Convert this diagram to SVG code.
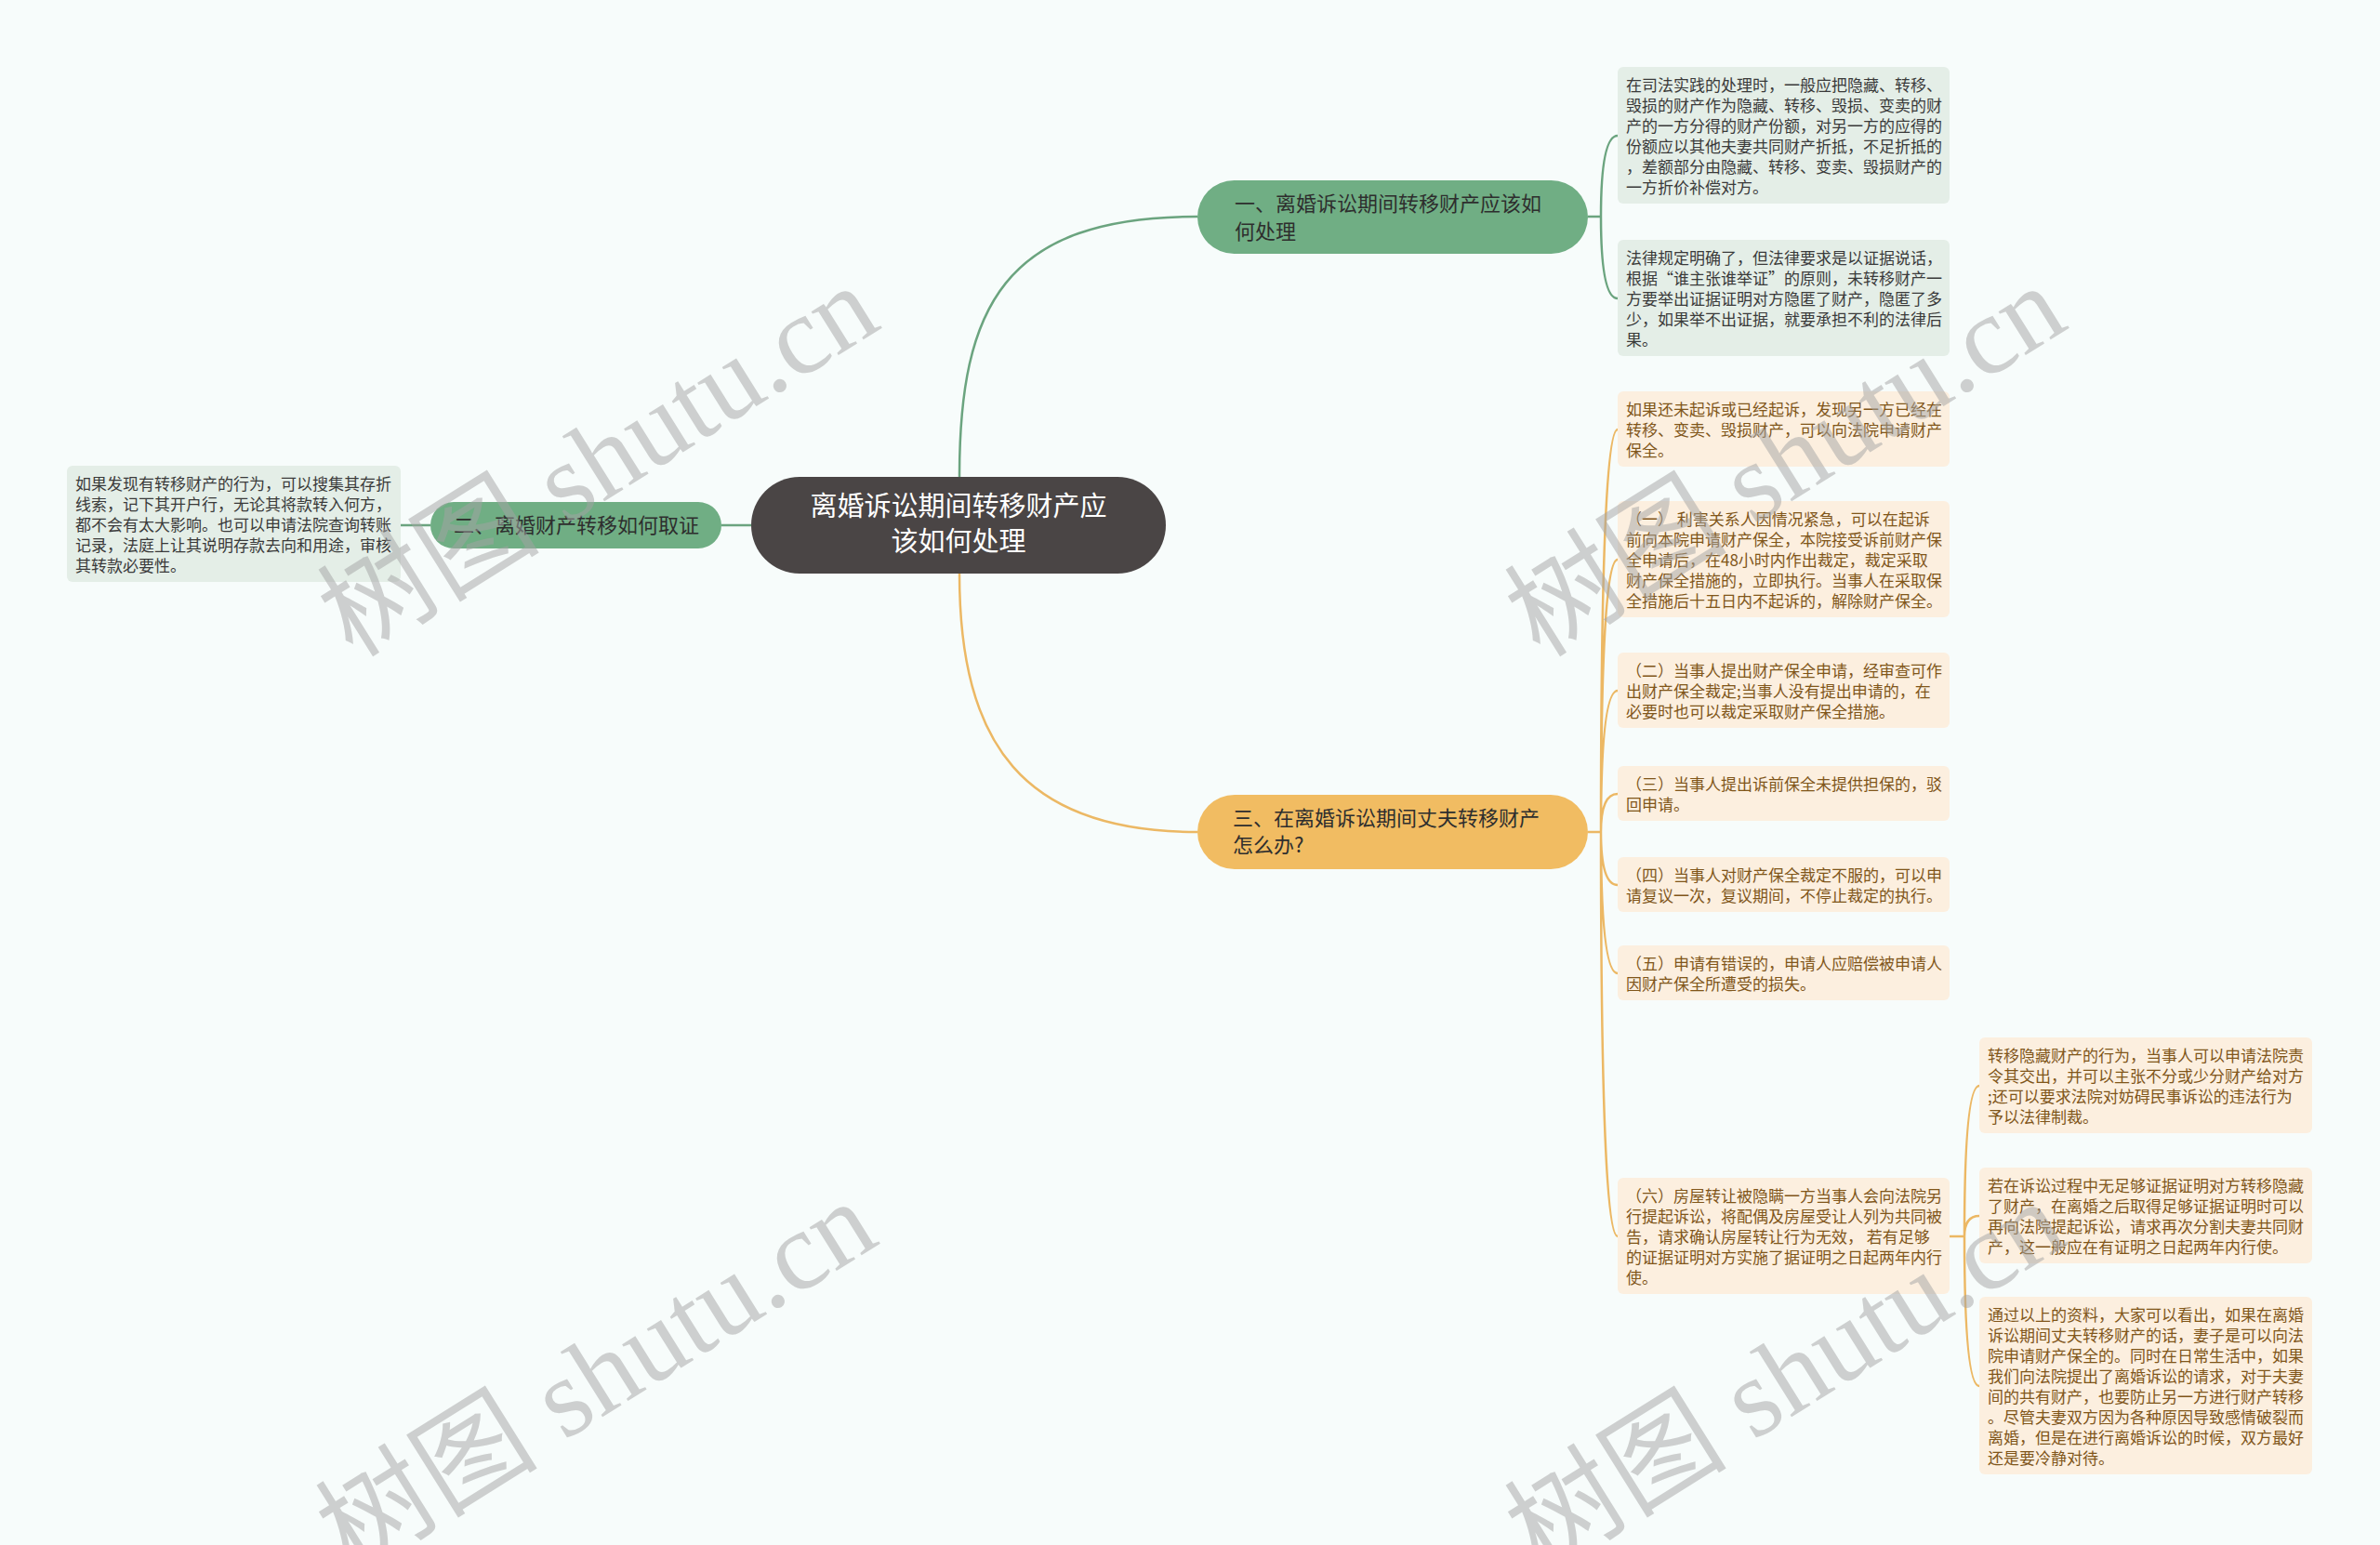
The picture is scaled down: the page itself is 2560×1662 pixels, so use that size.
<svg xmlns="http://www.w3.org/2000/svg" width="2560" height="1662" viewBox="0 0 2560 1662">
<style>
.lf{font-family:"Noto Sans CJK SC","Noto Sans",sans-serif;font-size:17px}
.gl rect{fill:#e4eee7}
.gl text{fill:#3a3a3a}
.ol rect{fill:#fcefdf}
.ol text{fill:#80561a}
.br{font-family:"Noto Sans CJK SC","Noto Sans",sans-serif;font-size:22px;fill:#2e2e2e}
.gc{fill:none;stroke:#6ba47f;stroke-width:2.5}
.oc{fill:none;stroke:#ecb864;stroke-width:2.5}
.wm{font-family:"Liberation Serif","Noto Sans CJK SC",serif;font-size:120px;fill:#a4a4a4;opacity:0.5}
</style>
<rect width="2560" height="1662" fill="#f7fcfb"/>
<g id="connectors">
<path class="gc" d="M1032,513 C1032,330 1080,233 1288,233"/>
<path class="oc" d="M1032,617 C1032,800 1100,895 1288,895"/>
<path class="gc" d="M808,565 H776"/>
<path class="gc" d="M463,565 H431"/>
<path class="gc" d="M1708,233 H1722 M1722,233 Q1722,146 1740,146 M1722,233 Q1722,321 1740,321"/>
<path class="oc" d="M1708,895 H1722 M1722,895 Q1722,462 1740,462 M1722,895 Q1722,602 1740,602 M1722,895 Q1722,743 1740,743 M1722,895 Q1722,854 1740,854 M1722,895 Q1722,952 1740,952 M1722,895 Q1722,1047 1740,1047 M1722,895 Q1722,1330 1740,1330"/>
<path class="oc" d="M2096,1330 H2113 M2113,1330 Q2113,1168 2129,1168 M2113,1330 Q2113,1308 2129,1308 M2113,1330 Q2113,1491 2129,1491"/>
</g>
<g id="center">
<rect x="808" y="513" width="446" height="104" rx="52" fill="#4a4545"/>
<text font-family="&quot;Noto Sans CJK SC&quot;,sans-serif" font-size="29" fill="#ffffff" text-anchor="middle"><tspan x="1031" y="555">离婚诉讼期间转移财产应</tspan><tspan x="1031" y="593">该如何处理</tspan></text>
</g>
<g id="branch1">
<rect x="1288" y="194" width="420" height="79" rx="39.5" fill="#70ae84"/>
<text class="br"><tspan x="1328" y="227">一、离婚诉讼期间转移财产应该如</tspan><tspan x="1328" y="257">何处理</tspan></text>
</g>
<g id="branch2">
<rect x="463" y="540" width="313" height="50" rx="25" fill="#70ae84"/>
<text class="br" x="488" y="573">二、离婚财产转移如何取证</text>
</g>
<g id="branch3">
<rect x="1288" y="855" width="420" height="80" rx="40" fill="#f1bc62"/>
<text class="br"><tspan x="1326" y="888">三、在离婚诉讼期间丈夫转移财产</tspan><tspan x="1326" y="917">怎么办?</tspan></text>
</g>
<g id="leaf-left" class="gl">
<rect x="72" y="501" width="359" height="125" rx="6"/>
<text class="lf"><tspan x="81" y="527">如果发现有转移财产的行为，可以搜集其存折</tspan><tspan x="81" y="549">线索，记下其开户行，无论其将款转入何方，</tspan><tspan x="81" y="571">都不会有太大影响。也可以申请法院查询转账</tspan><tspan x="81" y="593">记录，法庭上让其说明存款去向和用途，审核</tspan><tspan x="81" y="615">其转款必要性。</tspan></text>
</g>
<g id="leaf-1a" class="gl">
<rect x="1740" y="72" width="357" height="147" rx="6"/>
<text class="lf"><tspan x="1749" y="98">在司法实践的处理时，一般应把隐藏、转移、</tspan><tspan x="1749" y="120">毁损的财产作为隐藏、转移、毁损、变卖的财</tspan><tspan x="1749" y="142">产的一方分得的财产份额，对另一方的应得的</tspan><tspan x="1749" y="164">份额应以其他夫妻共同财产折抵，不足折抵的</tspan><tspan x="1749" y="186">，差额部分由隐藏、转移、变卖、毁损财产的</tspan><tspan x="1749" y="208">一方折价补偿对方。</tspan></text>
</g>
<g id="leaf-1b" class="gl">
<rect x="1740" y="258" width="357" height="125" rx="6"/>
<text class="lf"><tspan x="1749" y="284">法律规定明确了，但法律要求是以证据说话，</tspan><tspan x="1749" y="306">根据“谁主张谁举证”的原则，未转移财产一</tspan><tspan x="1749" y="328">方要举出证据证明对方隐匿了财产，隐匿了多</tspan><tspan x="1749" y="350">少，如果举不出证据，就要承担不利的法律后</tspan><tspan x="1749" y="372">果。</tspan></text>
</g>
<g id="leaf-3-0" class="ol">
<rect x="1740" y="421" width="357" height="81" rx="6"/>
<text class="lf"><tspan x="1749" y="447">如果还未起诉或已经起诉，发现另一方已经在</tspan><tspan x="1749" y="469">转移、变卖、毁损财产，可以向法院申请财产</tspan><tspan x="1749" y="491">保全。</tspan></text>
</g>
<g id="leaf-3-1" class="ol">
<rect x="1740" y="539" width="357" height="125" rx="6"/>
<text class="lf"><tspan x="1749" y="565">（一） 利害关系人因情况紧急，可以在起诉</tspan><tspan x="1749" y="587">前向本院申请财产保全，本院接受诉前财产保</tspan><tspan x="1749" y="609">全申请后，在48小时内作出裁定，裁定采取</tspan><tspan x="1749" y="631">财产保全措施的，立即执行。当事人在采取保</tspan><tspan x="1749" y="653">全措施后十五日内不起诉的，解除财产保全。</tspan></text>
</g>
<g id="leaf-3-2" class="ol">
<rect x="1740" y="702" width="357" height="81" rx="6"/>
<text class="lf"><tspan x="1749" y="728">（二）当事人提出财产保全申请，经审查可作</tspan><tspan x="1749" y="750">出财产保全裁定;当事人没有提出申请的，在</tspan><tspan x="1749" y="772">必要时也可以裁定采取财产保全措施。</tspan></text>
</g>
<g id="leaf-3-3" class="ol">
<rect x="1740" y="824" width="357" height="59" rx="6"/>
<text class="lf"><tspan x="1749" y="850">（三）当事人提出诉前保全未提供担保的，驳</tspan><tspan x="1749" y="872">回申请。</tspan></text>
</g>
<g id="leaf-3-4" class="ol">
<rect x="1740" y="922" width="357" height="59" rx="6"/>
<text class="lf"><tspan x="1749" y="948">（四）当事人对财产保全裁定不服的，可以申</tspan><tspan x="1749" y="970">请复议一次，复议期间，不停止裁定的执行。</tspan></text>
</g>
<g id="leaf-3-5" class="ol">
<rect x="1740" y="1017" width="357" height="59" rx="6"/>
<text class="lf"><tspan x="1749" y="1043">（五）申请有错误的，申请人应赔偿被申请人</tspan><tspan x="1749" y="1065">因财产保全所遭受的损失。</tspan></text>
</g>
<g id="leaf-3-6" class="ol">
<rect x="1740" y="1267" width="357" height="125" rx="6"/>
<text class="lf"><tspan x="1749" y="1293">（六）房屋转让被隐瞒一方当事人会向法院另</tspan><tspan x="1749" y="1315">行提起诉讼，将配偶及房屋受让人列为共同被</tspan><tspan x="1749" y="1337">告，请求确认房屋转让行为无效， 若有足够</tspan><tspan x="1749" y="1359">的证据证明对方实施了据证明之日起两年内行</tspan><tspan x="1749" y="1381">使。</tspan></text>
</g>
<g id="leaf-6-1" class="ol">
<rect x="2129" y="1116" width="358" height="103" rx="6"/>
<text class="lf"><tspan x="2138" y="1142">转移隐藏财产的行为，当事人可以申请法院责</tspan><tspan x="2138" y="1164">令其交出，并可以主张不分或少分财产给对方</tspan><tspan x="2138" y="1186">;还可以要求法院对妨碍民事诉讼的违法行为</tspan><tspan x="2138" y="1208">予以法律制裁。</tspan></text>
</g>
<g id="leaf-6-2" class="ol">
<rect x="2129" y="1256" width="358" height="103" rx="6"/>
<text class="lf"><tspan x="2138" y="1282">若在诉讼过程中无足够证据证明对方转移隐藏</tspan><tspan x="2138" y="1304">了财产，在离婚之后取得足够证据证明时可以</tspan><tspan x="2138" y="1326">再向法院提起诉讼，请求再次分割夫妻共同财</tspan><tspan x="2138" y="1348">产，这一般应在有证明之日起两年内行使。</tspan></text>
</g>
<g id="leaf-6-3" class="ol">
<rect x="2129" y="1395" width="358" height="191" rx="6"/>
<text class="lf"><tspan x="2138" y="1421">通过以上的资料，大家可以看出，如果在离婚</tspan><tspan x="2138" y="1443">诉讼期间丈夫转移财产的话，妻子是可以向法</tspan><tspan x="2138" y="1465">院申请财产保全的。同时在日常生活中，如果</tspan><tspan x="2138" y="1487">我们向法院提出了离婚诉讼的请求，对于夫妻</tspan><tspan x="2138" y="1509">间的共有财产，也要防止另一方进行财产转移</tspan><tspan x="2138" y="1531">。尽管夫妻双方因为各种原因导致感情破裂而</tspan><tspan x="2138" y="1553">离婚，但是在进行离婚诉讼的时候，双方最好</tspan><tspan x="2138" y="1575">还是要冷静对待。</tspan></text>
</g>
<g id="watermarks">
<text class="wm" text-anchor="middle" transform="translate(665,530) rotate(-32)">树图 shutu.cn</text>
<text class="wm" text-anchor="middle" transform="translate(1942,530) rotate(-32)">树图 shutu.cn</text>
<text class="wm" text-anchor="middle" transform="translate(663,1515) rotate(-32)">树图 shutu.cn</text>
<text class="wm" text-anchor="middle" transform="translate(1942,1515) rotate(-32)">树图 shutu.cn</text>
</g>
</svg>
